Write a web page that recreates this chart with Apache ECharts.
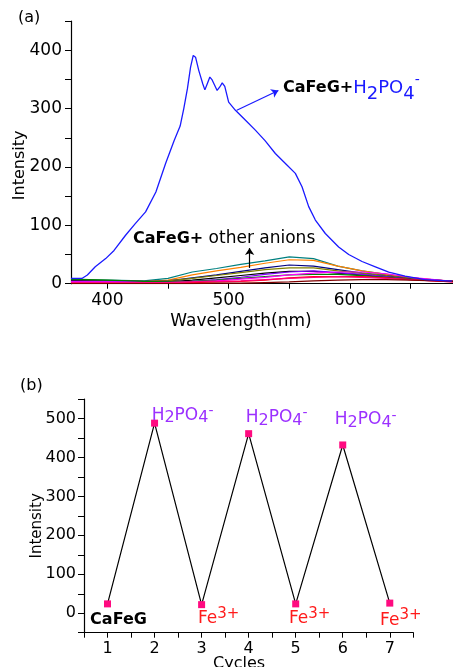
<!DOCTYPE html>
<html>
<head>
<meta charset="utf-8">
<script src="https://cdn.jsdelivr.net/npm/echarts@6/dist/echarts.min.js"></script>
<style>
  html, body { margin: 0; padding: 0; background: #fff; }
  #main { width: 453px; height: 667px; }
</style>
</head>
<body>
<div id="main"></div>
<script>
// 数据 (a) 光谱
var blueX = [370, 379, 383.5, 390, 398.6, 405.5, 415, 423, 431.5, 440, 448, 455, 460, 463, 466, 468.6, 470.8, 472.7, 475.4, 478.7, 480.4, 482.3, 484.5, 486.4, 490.5, 492.7, 494.7, 496.8, 500, 505.6, 513.9, 522, 530, 538.5, 546.8, 555, 560.5, 566, 571.5, 579.7, 590.7, 599, 610, 621, 632, 645.5, 662, 684]
var blueY = [9, 9, 15, 29, 43, 57, 83, 103, 123, 157, 206, 245, 270, 300, 334, 371, 391, 388, 365, 342, 332, 342, 354, 349, 331, 337, 344, 338, 311, 297, 280, 263, 245, 223, 206, 189, 166, 132, 109, 86, 63, 50, 38, 29, 20, 13, 7, 4.5]

var anionX = [370, 400, 430, 450, 470, 490, 510, 530, 550, 570, 590, 610, 630, 650, 685]
var teal    = [7, 6, 5, 9, 20, 26, 33, 39, 46, 43, 30, 22, 16, 10, 4]
var orange  = [2, 3, 3, 6, 15, 22, 28, 35, 41, 40, 30, 22, 16, 10, 4]
var navy    = [6, 5, 4, 5, 10, 15, 21, 27, 32, 30, 24, 18, 14, 9, 4]
var olive   = [5, 5, 4, 5, 9, 14, 19, 24, 27, 27, 22, 18, 14, 9, 4]
var black   = [5, 4, 3, 3, 6, 10, 14, 18, 21, 21, 18, 15, 12, 8, 4]
var purple  = [4, 4, 3, 3, 4, 7, 11, 16, 20, 22, 19, 16, 12, 8, 4]
var green   = [8, 6, 4, 3, 4, 6, 9, 12, 15, 16, 16, 14, 11, 8, 4]
var magenta = [3, 3, 2, 2, 3, 5, 8, 11, 15, 18, 20, 20, 17, 11, 4]
var red     = [1, 1, 1, 1, 2, 3, 4, 6, 10, 12, 12, 12, 10, 7, 3]
var pink    = [2, 2, 2, 2, 3, 4, 5, 7, 9, 11, 12, 11, 9, 7, 3]
var brown   = [0, 0, 0, 0, 0, 1, 1, 2, 3, 5, 6, 7, 7, 6, 4]

// 数据 (b) 循环
var cycles = [1, 2, 3, 4, 5, 6, 7]
var cycleY = [24, 488, 22, 461, 24, 432, 26]
var cycleLabels = ['CaFeG', 'H2PO4', 'Fe', 'H2PO4', 'Fe', 'H2PO4', 'Fe']

var font = '"DejaVu Sans", sans-serif'

function pair(xs, ys) {
  var out = []
  for (var i = 0; i < xs.length; i++) out.push([xs[i], ys[i]])
  return out
}

var anionSets = [
  [teal, '#008080'], [orange, '#ff8000'], [navy, '#000080'], [olive, '#808000'],
  [black, '#000000'], [purple, '#8000ff'], [green, '#008000'], [magenta, '#ff00ff'],
  [red, '#ff0000'], [pink, '#ff0080'], [brown, '#800000']
]

var myChart = echarts.init(document.getElementById('main'))

var series = []
anionSets.forEach(function (s) {
  series.push({
    type: 'line', xAxisIndex: 0, yAxisIndex: 0, showSymbol: false,
    data: pair(anionX, s[0]), lineStyle: { color: s[1], width: 1.2 }, z: 2
  })
})

// 蓝色主峰
series.push({
  type: 'line', xAxisIndex: 0, yAxisIndex: 0, showSymbol: false,
  data: pair(blueX, blueY), lineStyle: { color: '#1a1aff', width: 1.3 }, z: 3,
  markLine: {
    silent: true, symbol: ['none', 'arrow'], symbolSize: 7,
    label: { show: false },
    data: [
      [{ coord: [506.7, 297], lineStyle: { color: '#1a1aff', width: 1.2, type: 'solid' } }, { coord: [541, 331] }],
      [{ coord: [517.3, 27], lineStyle: { color: '#000', width: 1.2, type: 'solid' } }, { coord: [517.3, 61] }]
    ]
  }
})

// (b) 折线
var rich = {
  n: { fontSize: 17, lineHeight: 22, color: '#9b30ff', fontFamily: font },
  s: { fontSize: 16, lineHeight: 12, verticalAlign: 'bottom', color: '#9b30ff', fontFamily: font },
  u: { fontSize: 14, lineHeight: 10, verticalAlign: 'top', color: '#9b30ff', fontFamily: font },
  f: { fontSize: 17, lineHeight: 24, color: '#ff1a1a', fontFamily: font },
  fu: { fontSize: 15, lineHeight: 16, verticalAlign: 'top', color: '#ff1a1a', fontFamily: font },
  c: { fontSize: 16, lineHeight: 24, color: '#000', fontWeight: 'bold', fontFamily: font }
}
var offsets = [[11, 16], [28, -8], [17, 14], [28, -16], [14, 15], [23, -25], [11, 17]]
var cycleData = cycles.map(function (c, i) {
  var t = cycleLabels[i]
  var txt = t === 'CaFeG' ? '{c|CaFeG}' : (t === 'Fe' ? '{f|Fe}{fu|3+}' : '{n|H}{s|2}{n|PO}{s|4}{u|-}')
  return {
    value: [c, cycleY[i]],
    label: { show: true, position: 'inside', offset: offsets[i], formatter: txt, rich: rich }
  }
})
series.push({
  type: 'line', xAxisIndex: 1, yAxisIndex: 1,
  data: cycleData, symbol: 'rect', symbolSize: 7,
  itemStyle: { color: '#ff0a80' },
  lineStyle: { color: '#000', width: 1.2 }
})

var axisCommon = {
  nameMoveOverlap: false,
  axisLine: { show: true, onZero: false, lineStyle: { color: '#000', width: 1.2 } },
  splitLine: { show: false }
}

var option = {
  animation: false,
  grid: [
    { left: 71, right: 0, top: 21, bottom: 383.3, outerBoundsMode: 'none', containLabel: false },
    { left: 84, right: 39.7, top: 399, bottom: 34.3, outerBoundsMode: 'none', containLabel: false }
  ],
  xAxis: [
    Object.assign({
      gridIndex: 0, type: 'value', min: 370, max: 685,
      name: 'Wavelength(nm)', nameLocation: 'middle', nameGap: 29,
      nameTextStyle: { fontSize: 17, color: '#000', fontFamily: font, padding: [0, 42, 0, 0] },
      axisTick: { show: true, length: 5, customValues: [400, 450, 500, 550, 600, 650], lineStyle: { color: '#000' } },
      axisLabel: { customValues: [400, 500, 600], fontSize: 17, color: '#000', margin: 8, fontFamily: font }
    }, axisCommon),
    Object.assign({
      gridIndex: 1, type: 'value', min: 0.5, max: 7.5, interval: 0.5,
      name: 'Cycles', nameLocation: 'middle', nameGap: 23,
      nameTextStyle: { fontSize: 16, color: '#000', fontFamily: font, padding: [0, 19, 0, 0] },
      axisTick: { show: true, length: 5, lineStyle: { color: '#000' } },
      axisLabel: {
        fontSize: 16, color: '#000', margin: 8, fontFamily: font,
        formatter: function (v) { return v % 1 === 0 ? String(v) : '' }
      }
    }, axisCommon)
  ],
  yAxis: [
    Object.assign({
      gridIndex: 0, type: 'value', min: 0, max: 450, interval: 50,
      name: 'Intensity', nameLocation: 'middle', nameGap: 43,
      nameTextStyle: { fontSize: 16, color: '#000', fontFamily: font, padding: [0, 26, 0, 0] },
      axisTick: { show: true, length: 6, lineStyle: { color: '#000' } },
      axisLabel: {
        fontSize: 17, color: '#000', margin: 9, fontFamily: font,
        formatter: function (v) { return v % 100 === 0 ? String(v) : '' }
      }
    }, axisCommon),
    Object.assign({
      gridIndex: 1, type: 'value', min: -50, max: 550, interval: 50,
      name: 'Intensity', nameLocation: 'middle', nameGap: 39,
      nameTextStyle: { fontSize: 15, color: '#000', fontFamily: font, padding: [0, 20, 0, 0] },
      axisTick: { show: true, length: 6, lineStyle: { color: '#000' } },
      axisLabel: {
        fontSize: 16, color: '#000', margin: 8, fontFamily: font,
        formatter: function (v) { return (v % 100 === 0 && v >= 0) ? String(v) : '' }
      }
    }, axisCommon)
  ],
  graphic: [
    { type: 'text', left: 18, top: 10, style: { text: '(a)', font: '16px ' + font, fill: '#000' } },
    { type: 'text', left: 20, top: 378, style: { text: '(b)', font: '16px ' + font, fill: '#000' } },
    {
      type: 'text', left: 283, top: 73,
      style: {
        text: '{b|CaFeG+}{h|H}{s|2}{h|PO}{s|4}{u|-}',
        rich: {
          b: { fontSize: 16, fontWeight: 'bold', lineHeight: 30, fill: '#000', fontFamily: font },
          h: { fontSize: 18, lineHeight: 30, fill: '#1a1aff', fontFamily: font },
          s: { fontSize: 18, lineHeight: 14, verticalAlign: 'bottom', fill: '#1a1aff', fontFamily: font },
          u: { fontSize: 14, lineHeight: 10, verticalAlign: 'top', fill: '#1a1aff', fontFamily: font }
        }
      }
    },
    {
      type: 'text', left: 133, top: 230,
      style: {
        text: '{b|CaFeG+}{n| other anions}',
        rich: {
          b: { fontSize: 16, fontWeight: 'bold', lineHeight: 20, fill: '#000', fontFamily: font },
          n: { fontSize: 17, lineHeight: 20, fill: '#000', fontFamily: font }
        }
      }
    }
  ],
  series: series
}

myChart.setOption(option)
</script>
</body>
</html>
